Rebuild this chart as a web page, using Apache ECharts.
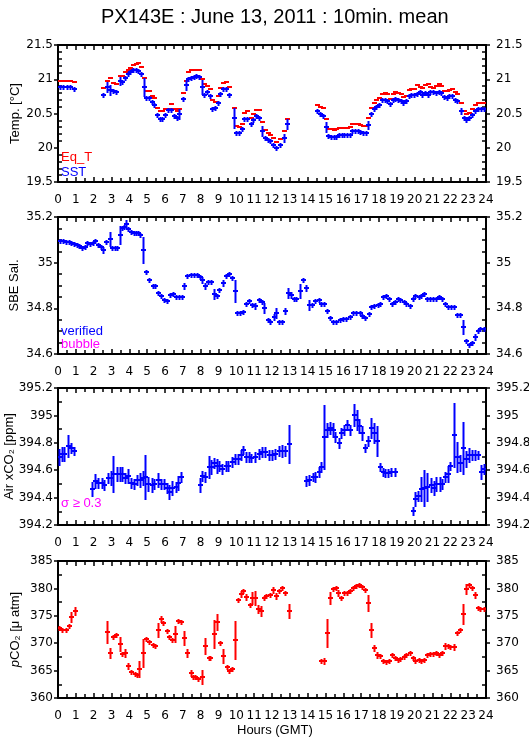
<!DOCTYPE html>
<html>
<head>
<meta charset="utf-8">
<script src="https://cdn.jsdelivr.net/npm/echarts@6/dist/echarts.min.js"></script>
<style>
  html, body { margin: 0; padding: 0; background: #fff; }
  #chart { width: 529px; height: 739px; }
</style>
</head>
<body>
<div id="chart"></div>
<script>
// ---- temperature panel ----
const tempHours = [0.1, 0.3, 0.5, 0.7, 0.9,
  2.55, 2.75, 2.9, 3.1, 3.25, 3.45, 3.6, 3.75, 3.9, 4.05, 4.2, 4.35, 4.5, 4.65, 4.8, 4.95,
  5.1, 5.25, 5.4, 5.55, 5.7, 5.85, 6.0, 6.15, 6.35, 6.5, 6.65, 6.8, 7.0, 7.15, 7.3, 7.45,
  7.6, 7.75, 7.9, 8.05, 8.2, 8.35, 8.5, 8.65, 8.8, 8.95, 9.1, 9.25, 9.4, 9.6, 9.85, 10.0,
  10.15, 10.3, 10.45, 10.6, 10.8, 10.95, 11.1, 11.25, 11.45, 11.6, 11.75, 11.9, 12.05, 12.25,
  12.45, 12.65, 12.85,
  14.55, 14.7, 14.85, 15.0, 15.15, 15.3, 15.45, 15.6, 15.75, 15.9, 16.05, 16.2, 16.35, 16.5,
  16.65, 16.8, 16.95, 17.1, 17.25,
  17.4, 17.55, 17.7, 17.85, 18.01, 18.16, 18.31, 18.46, 18.61, 18.76, 18.92, 19.07, 19.22,
  19.37, 19.52, 19.67, 19.82, 19.98, 20.13, 20.28, 20.43, 20.58, 20.73, 20.88, 21.04, 21.19,
  21.34, 21.49, 21.64, 21.79, 21.95, 22.1, 22.25, 22.4, 22.58, 22.74, 22.9, 23.06, 23.22,
  23.38, 23.56, 23.74, 23.9]
const eqT = [20.97, 20.97, 20.98, 20.98, 20.96,
  20.87, 20.97, 21.02, 20.94, 20.93, 21.05, 21.05, 21.1, 21.13, 21.17, 21.21, 21.22, 21.23, 21.18, 21.02, 20.83,
  20.83, 20.76, 20.72, 20.58, 20.53, 20.53, 20.56, 20.56, 20.64, 20.56, 20.54, 20.57, 20.8, 20.97, 21.1, 21.13,
  21.13, 21.13, 21.13, 21.0, 20.93, 20.9, 20.86, 20.69, 20.67, 20.75, 20.87, 20.94, 20.96, 20.88, 20.58, 20.32,
  20.3, 20.35, 20.51, 20.53, 20.43, 20.5, 20.55, 20.55, 20.37, 20.26, 20.21, 20.19, 20.14, 20.09,
  20.13, 20.24, 20.42,
  20.62, 20.6, 20.58, 20.42, 20.27, 20.27, 20.26, 20.27, 20.29, 20.29, 20.29, 20.29, 20.3, 20.34,
  20.34, 20.34, 20.33, 20.32, 20.32,
  20.44, 20.58, 20.66, 20.69, 20.72, 20.79, 20.8, 20.78, 20.71, 20.78, 20.81, 20.8, 20.79,
  20.74, 20.75, 20.85, 20.86, 20.86, 20.91, 20.88, 20.87, 20.91, 20.93, 20.89, 20.87, 20.9,
  20.93, 20.9, 20.83, 20.83, 20.84, 20.86, 20.81, 20.79, 20.66, 20.53, 20.5, 20.51, 20.57,
  20.63, 20.65, 20.65, 20.66]
const sst = [20.88, 20.88, 20.89, 20.88, 20.86,
  20.77, 20.89, 20.85, 20.83, 20.82, 20.98, 20.96, 21.02, 21.07, 21.1, 21.13, 21.14, 21.12, 21.07, 20.88, 20.72,
  20.72, 20.67, 20.62, 20.48, 20.42, 20.42, 20.48, 20.55, 20.55, 20.46, 20.44, 20.5, 20.71, 20.91, 21.01, 21.02,
  21.04, 21.05, 21.03, 20.88, 20.77, 20.81, 20.75, 20.57, 20.58, 20.66, 20.78, 20.86, 20.86, 20.77, 20.43, 20.21,
  20.21, 20.27, 20.42, 20.42, 20.34, 20.41, 20.47, 20.44, 20.25, 20.14, 20.11, 20.1, 20.04, 20.0,
  20.04, 20.14, 20.34,
  20.53, 20.5, 20.47, 20.3, 20.17, 20.16, 20.16, 20.16, 20.18, 20.18, 20.18, 20.18, 20.19, 20.24,
  20.24, 20.24, 20.23, 20.22, 20.22,
  20.33, 20.49, 20.56, 20.59, 20.63, 20.7, 20.7, 20.68, 20.64, 20.69, 20.71, 20.7, 20.68,
  20.65, 20.68, 20.75, 20.77, 20.77, 20.79, 20.82, 20.77, 20.8, 20.77, 20.81, 20.82, 20.8,
  20.82, 20.8, 20.74, 20.72, 20.75, 20.76, 20.7, 20.68, 20.54, 20.43, 20.4, 20.43, 20.48,
  20.54, 20.56, 20.56, 20.56]
// half-length of the SST error bar, 0 = just the plus mark
const sstErr = [0, 0, 0, 0, 0,
  0, 0.07, 0.07, 0, 0, 0.06, 0, 0, 0, 0, 0, 0, 0, 0, 0.13, 0,
  0, 0, 0, 0, 0, 0, 0, 0, 0, 0, 0, 0.07, 0, 0.07, 0, 0,
  0, 0, 0, 0.1, 0, 0, 0, 0.03, 0, 0, 0, 0, 0, 0, 0.15, 0,
  0, 0, 0, 0, 0, 0, 0, 0, 0.07, 0, 0, 0, 0, 0,
  0, 0.06, 0.07,
  0, 0, 0.03, 0.07, 0, 0, 0, 0, 0, 0, 0, 0, 0, 0,
  0, 0, 0, 0, 0,
  0.06, 0.03, 0, 0, 0, 0, 0, 0, 0, 0, 0, 0, 0,
  0, 0, 0, 0, 0, 0, 0, 0, 0, 0, 0, 0, 0,
  0, 0, 0, 0, 0, 0, 0, 0, 0.05, 0, 0, 0, 0,
  0.03, 0, 0, 0]

// ---- salinity panel ----
const salHours = [0.1, 0.3, 0.45, 0.6, 0.75, 0.9, 1.05, 1.2, 1.35, 1.5, 1.65, 1.8, 1.95, 2.1,
  2.25, 2.4, 2.55, 2.7, 2.9, 3.05, 3.2, 3.3, 3.45, 3.6, 3.7, 3.8, 3.95, 4.1, 4.25, 4.4, 4.5,
  4.6, 4.75, 4.95, 5.1, 5.3, 5.45, 5.6, 5.8, 5.95, 6.1, 6.3, 6.45, 6.6, 6.8, 6.95, 7.05, 7.25,
  7.45, 7.6, 7.8, 7.95, 8.1, 8.25, 8.4, 8.6, 8.75, 8.9, 9.05, 9.25, 9.4, 9.6, 9.75, 9.9,
  10.05, 10.2, 10.4, 10.55, 10.7, 10.9, 11.05, 11.25,
  11.44, 11.57, 11.76, 11.91, 12.09, 12.24, 12.41, 12.58, 12.75, 12.9, 13.07, 13.21, 13.36,
  13.55, 13.74, 13.93, 14.07, 14.24, 14.43, 14.62, 14.75, 14.93, 15.08, 15.27, 15.42, 15.61,
  15.79, 15.98, 16.17, 16.39, 16.54, 16.73, 16.95, 17.05, 17.23, 17.42, 17.57, 17.74, 17.93,
  18.04, 18.22, 18.41, 18.56, 18.73, 18.92, 19.05, 19.2, 19.38, 19.53, 19.72, 19.89, 20.04,
  20.22, 20.37, 20.54, 20.69, 20.88, 21.03, 21.2, 21.38, 21.53, 21.72, 21.87, 22.04, 22.19,
  22.37, 22.52, 22.69, 22.88, 23.03, 23.21, 23.36, 23.53, 23.68, 23.87]
const salinity = [35.094, 35.094, 35.092, 35.09, 35.086, 35.083, 35.076, 35.072, 35.066, 35.069, 35.086, 35.08, 35.088, 35.094,
  35.076, 35.069, 35.057, 35.09, 35.105, 35.065, 35.065, 35.065, 35.12, 35.153, 35.156, 35.171, 35.149, 35.134, 35.132, 35.132, 35.132,
  35.12, 35.057, 34.96, 34.923, 34.9, 34.9, 34.865, 34.853, 34.836, 34.832, 34.858, 34.861, 34.848, 34.848, 34.848, 34.9, 34.94,
  34.945, 34.945, 34.944, 34.938, 34.923, 34.9, 34.915, 34.915, 34.862, 34.853, 34.88, 34.91, 34.94, 34.95, 34.935, 34.877,
  34.778, 34.78, 34.785, 34.82, 34.83, 34.814, 34.81, 34.836,
  34.829, 34.8, 34.751, 34.738, 34.763, 34.778, 34.74, 34.74, 34.788, 34.865, 34.858, 34.843, 34.839,
  34.877, 34.923, 34.89, 34.814, 34.814, 34.833, 34.836, 34.818, 34.818, 34.788, 34.756, 34.741, 34.741,
  34.749, 34.753, 34.753, 34.76, 34.778, 34.778, 34.778, 34.766, 34.759, 34.773, 34.804, 34.811, 34.814,
  34.818, 34.85, 34.855, 34.842, 34.818, 34.829, 34.839, 34.836, 34.829, 34.817, 34.812, 34.843, 34.855,
  34.848, 34.853, 34.861, 34.84, 34.843, 34.839, 34.839, 34.85, 34.839, 34.817, 34.807, 34.807, 34.804,
  34.77, 34.77, 34.72, 34.657, 34.64, 34.65, 34.676, 34.702, 34.708, 34.708]
const salErr = [0, 0, 0, 0, 0, 0, 0, 0, 0, 0, 0, 0, 0, 0,
  0, 0, 0.012, 0, 0.03, 0, 0, 0, 0.04, 0, 0, 0.018, 0, 0, 0, 0, 0,
  0, 0.058, 0, 0, 0, 0, 0, 0, 0, 0, 0, 0, 0, 0, 0, 0.015, 0,
  0, 0, 0, 0, 0.012, 0.012, 0, 0, 0.02, 0, 0, 0.015, 0, 0, 0, 0.048,
  0, 0, 0, 0, 0, 0, 0.012, 0,
  0, 0.02, 0, 0, 0.015, 0.02, 0, 0, 0.015, 0.02, 0.015, 0, 0,
  0.03, 0, 0.015, 0.02, 0, 0, 0, 0, 0, 0, 0, 0, 0,
  0, 0, 0, 0, 0, 0, 0, 0, 0, 0, 0, 0, 0,
  0, 0, 0, 0, 0, 0, 0, 0, 0, 0, 0, 0, 0,
  0, 0, 0, 0, 0, 0, 0, 0, 0, 0, 0, 0, 0,
  0, 0, 0.03, 0, 0, 0, 0.015, 0, 0, 0]

// ---- air xCO2 panel ----
const airHours = [0.05, 0.2, 0.35, 0.55, 0.75, 0.9,
  1.9, 2.1, 2.25, 2.45, 2.6, 2.8, 2.95, 3.1, 3.3, 3.45, 3.6, 3.75, 3.95, 4.1, 4.25, 4.45,
  4.6, 4.75, 4.9, 5.05, 5.25, 5.4, 5.6, 5.75, 5.95, 6.1, 6.25, 6.4, 6.6, 6.75, 6.9,
  7.95, 8.1, 8.25, 8.45, 8.6, 8.75, 8.9, 9.05, 9.2, 9.4, 9.55, 9.75, 9.9, 10.1, 10.25,
  10.4, 10.55, 10.7, 10.85, 11.05, 11.25, 11.44, 11.63, 11.81, 12.0, 12.19, 12.37, 12.56,
  12.75, 12.93,
  13.89, 14.07, 14.28, 14.41, 14.62, 14.75, 14.9, 15.08, 15.27, 15.42, 15.55, 15.74, 15.89,
  16.02, 16.21, 16.39, 16.58, 16.77, 16.9, 17.05, 17.23, 17.38, 17.57, 17.7, 17.89, 18.04,
  18.21, 18.36, 18.5, 18.69, 18.88,
  19.89, 20.0, 20.19, 20.37, 20.54, 20.69, 20.92, 21.07, 21.21, 21.4, 21.53, 21.72, 21.87,
  22.0, 22.19, 22.37, 22.56, 22.69, 22.88, 23.03, 23.21, 23.36, 23.55, 23.72, 23.87]
const airXco2 = [394.7, 394.72, 394.72, 394.78, 394.76, 394.74,
  394.46, 394.52, 394.51, 394.51, 394.49, 394.54, 394.54, 394.57, 394.57, 394.575, 394.575, 394.54, 394.56, 394.51, 394.5, 394.53,
  394.53, 394.54, 394.55, 394.5, 394.49, 394.5, 394.53, 394.5, 394.5, 394.47, 394.44, 394.47, 394.48, 394.51, 394.55,
  394.49, 394.56, 394.55, 394.62, 394.62, 394.65, 394.63, 394.63, 394.61, 394.63, 394.63, 394.66, 394.68, 394.68, 394.71,
  394.75, 394.7, 394.7, 394.69, 394.7, 394.72, 394.73, 394.73, 394.71, 394.71, 394.72, 394.74, 394.74,
  394.74, 394.79,
  394.52, 394.53, 394.55, 394.55, 394.59, 394.62, 394.84, 394.89, 394.91, 394.89, 394.84, 394.8, 394.87,
  394.89, 394.93, 394.89, 395.0, 394.97, 394.92, 394.87, 394.76, 394.81, 394.91, 394.87, 394.81, 394.62,
  394.59, 394.58, 394.58, 394.59, 394.59,
  394.3, 394.39, 394.41, 394.46, 394.47, 394.48, 394.49, 394.47, 394.5, 394.5, 394.5, 394.55, 394.57,
  394.63, 394.86, 394.7, 394.65, 394.76, 394.68, 394.71, 394.71, 394.71, 394.71, 394.59, 394.61]
const airErr = [0.055, 0.05, 0.05, 0.08, 0.04, 0.03,
  0.05, 0.05, 0.04, 0.04, 0.04, 0.04, 0.05, 0.13, 0.05, 0.05, 0.05, 0.04, 0.05, 0.04, 0.04, 0.04,
  0.05, 0.05, 0.16, 0.05, 0.05, 0.04, 0.05, 0.04, 0.04, 0.04, 0.05, 0.05, 0.04, 0.05, 0.04,
  0.05, 0.035, 0.035, 0.08, 0.05, 0.04, 0.05, 0.04, 0.04, 0.04, 0.04, 0.04, 0.04, 0.04, 0.035,
  0.03, 0.04, 0.04, 0.03, 0.04, 0.04, 0.04, 0.04, 0.04, 0.04, 0.04, 0.04, 0.045,
  0.04, 0.14,
  0.04, 0.04, 0.03, 0.035, 0.035, 0.04, 0.23, 0.05, 0.045, 0.05, 0.04, 0.04, 0.035,
  0.04, 0.035, 0.04, 0.08, 0.07, 0.05, 0.05, 0.03, 0.04, 0.07, 0.07, 0.11, 0.03,
  0.03, 0.03, 0.03, 0.03, 0.03,
  0.03, 0.05, 0.04, 0.09, 0.13, 0.1, 0.05, 0.05, 0.05, 0.05, 0.04, 0.04, 0.06,
  0.03, 0.23, 0.11, 0.06, 0.19, 0.06, 0.05, 0.04, 0.04, 0.03, 0.05, 0.04]

// ---- pCO2 panel ----
const pco2Hours = [0.05, 0.25, 0.45, 0.6, 0.75, 0.95,
  2.75, 2.9, 3.1, 3.25, 3.45, 3.6, 3.75, 3.95, 4.1, 4.3, 4.45, 4.55, 4.75, 4.95, 5.1, 5.3,
  5.45, 5.6, 5.75, 5.9, 6.1, 6.25, 6.4, 6.55, 6.75, 6.9, 7.05, 7.25, 7.45, 7.55, 7.7, 7.85,
  8.05, 8.25, 8.45, 8.55, 8.75, 8.9, 9.1, 9.25, 9.45, 9.6, 9.75, 9.9, 10.1, 10.25, 10.4,
  10.55, 10.75, 10.9, 11.05, 11.2, 11.4, 11.57, 11.68, 11.87, 12.06, 12.24, 12.41, 12.58,
  12.75, 12.93,
  14.75, 14.9, 15.08, 15.27, 15.42, 15.57, 15.72, 15.87, 16.02, 16.21, 16.36, 16.52, 16.69,
  16.86, 17.05, 17.23, 17.38, 17.57, 17.74, 17.89, 18.04, 18.22, 18.39, 18.56, 18.73, 18.88,
  19.07, 19.2, 19.38, 19.53, 19.72, 19.89, 20.04, 20.22, 20.37, 20.54, 20.69, 20.88, 21.03,
  21.21, 21.38, 21.53, 21.72, 21.87, 22.0, 22.19, 22.37, 22.52, 22.69, 22.88, 23.03, 23.21,
  23.36, 23.55, 23.68, 23.87]
const pco2 = [372.7, 372.5, 372.5, 373.1, 374.7, 375.8,
  372.1, 368.3, 371.1, 371.5, 369.8, 368.05, 368.3, 365.75, 364.8, 364.4, 364.2, 365.3, 368.2, 370.7, 370.2, 369.6,
  369.5, 372.5, 374.5, 373.7, 372.2, 371.2, 370.6, 371.7, 374.1, 373.9, 371.0, 368.2, 364.5, 363.9, 363.8, 363.45,
  363.9, 369.4, 367.3, 367.3, 371.6, 373.9, 370.1, 367.7, 365.6, 364.95, 365.3, 370.6, 377.9, 379.0, 379.5,
  378.5, 377.0, 378.2, 378.2, 376.3, 375.9, 378.2, 378.6, 378.8, 379.7, 378.6, 379.6, 380.0,
  379.1, 375.9,
  366.7, 366.7, 371.9, 378.3, 379.8, 380.0, 379.1, 378.3, 379.2, 379.2, 379.6, 380.1, 380.5,
  380.6, 380.3, 379.7, 377.4, 372.4, 369.1, 367.9, 367.6, 366.7, 366.5, 366.8, 367.9, 367.3,
  367.0, 367.1, 367.4, 367.9, 368.2, 367.3, 366.7, 367.0, 366.8, 367.0, 367.9, 368.0, 368.0,
  368.3, 367.9, 368.3, 369.4, 369.4, 369.3, 369.3, 371.9, 372.5, 375.3, 379.8, 380.7, 380.1,
  378.8, 376.5, 376.2, 376.2]
const pco2Err = [0, 0, 0, 0, 1.0, 0.8,
  2.0, 1.0, 0, 0, 1.2, 0, 0.7, 0.5, 0, 0, 0, 1.5, 2.6, 0, 0, 0,
  0, 1.2, 0.5, 0, 0, 0, 0, 1.5, 0, 0, 1.3, 0.8, 0.5, 0, 0, 0,
  1.2, 1.5, 0, 0, 2.6, 1.5, 0, 1.2, 0, 0, 0, 3.5, 0, 0.6, 0,
  0.5, 0, 1.1, 1.2, 0.8, 0.9, 0, 0, 0, 0.6, 0.6, 0, 0,
  0, 1.2,
  0, 0.6, 2.5, 1.1, 0, 0, 0.6, 0, 0, 0, 0, 0, 0,
  0, 0, 0, 1.4, 1.2, 0.5, 0.5, 0, 0, 0, 0, 0, 0,
  0, 0, 0, 0, 0, 0, 0, 0, 0, 0, 0, 0, 0,
  0, 0, 0, 0.6, 0, 0, 0.6, 0, 0, 1.8, 1.0, 0, 0,
  0.6, 0, 0, 0]

const BLUE = '#0000ff'
const RED = '#ff0000'
const MAGENTA = '#ff00ff'
const FONT = 'Liberation Sans, Arial, sans-serif'
const TICK_FONT = 'DejaVu Sans, Liberation Sans, sans-serif'

const panelTops = [45, 217, 388, 561]
const panelHeight = 137
const panels = [
  { name: 'Temp. [°C]', min: 19.5, max: 21.5, interval: 0.5, minor: 5, nameGap: 36 },
  { name: 'SBE Sal.', min: 34.6, max: 35.2, interval: 0.2, minor: 4, nameGap: 37 },
  { name: 'Air xCO₂ [ppm]', min: 394.2, max: 395.2, interval: 0.2, minor: 2, nameGap: 42 },
  { name: '{i|p}CO₂ [μ atm]', min: 360, max: 385, interval: 5, minor: 2, nameGap: 36 }
]

const lineStyle = { color: '#000', width: 2 }
const tickStyle = { color: '#000', width: 1.5 }
const labelStyle = { color: '#000', fontSize: 12, fontFamily: TICK_FONT }

const grid = []
const xAxis = []
const yAxis = []
panels.forEach((p, i) => {
  grid.push({ left: 58, width: 428, top: panelTops[i], height: panelHeight, outerBoundsMode: 'none', containLabel: false })
  // bottom axis with hour labels, top axis just the ticks
  ;['bottom', 'top'].forEach(pos => {
    xAxis.push({
      gridIndex: i, type: 'value', position: pos, min: 0, max: 24, interval: 1,
      axisLine: { lineStyle },
      axisTick: { inside: true, length: 5, lineStyle: tickStyle },
      minorTick: { show: true, splitNumber: 2, length: 4, lineStyle: tickStyle },
      axisLabel: pos === 'bottom' ? Object.assign({ margin: 12 }, labelStyle) : { show: false },
      splitLine: { show: false }
    })
  })
  // left + right axes: labelled major ticks outward, minor ticks inward on a twin axis
  ;['left', 'right'].forEach(pos => {
    yAxis.push({
      gridIndex: i, type: 'value', position: pos, min: p.min, max: p.max, interval: p.interval,
      axisLine: { lineStyle },
      axisTick: { inside: false, length: 4, lineStyle: tickStyle },
      axisLabel: Object.assign({ margin: pos === 'left' ? 5 : 10 }, labelStyle),
      splitLine: { show: false },
      name: pos === 'left' ? p.name : '',
      nameLocation: 'middle',
      nameGap: p.nameGap,
      nameMoveOverlap: false,
      nameTextStyle: {
        color: '#000', fontSize: 13, fontFamily: FONT,
        rich: { i: { fontStyle: 'italic', fontSize: 13, fontFamily: FONT } }
      }
    })
    yAxis.push({
      gridIndex: i, type: 'value', position: pos, min: p.min, max: p.max, interval: p.interval,
      axisLine: { show: false },
      axisTick: { show: false, inside: true },
      minorTick: { show: true, splitNumber: p.minor, length: 4, lineStyle: tickStyle },
      axisLabel: { show: false },
      splitLine: { show: false }
    })
  })
})

// each mark: short horizontal bar for the 10 min mean, vertical bar for the spread
function markSeries(panel, hours, values, errs, color, withVertical) {
  const data = hours.map((h, k) => [h, values[k], errs ? errs[k] : 0])
  return {
    type: 'custom',
    xAxisIndex: panel * 2,
    yAxisIndex: panel * 4,
    clip: true,
    silent: true,
    data: data,
    renderItem: function (params, api) {
      const t = api.value(0)
      const v = api.value(1)
      const e = api.value(2)
      const p = api.coord([t, v])
      const x = Math.round(p[0])
      const y = Math.round(p[1])
      const children = [{
        type: 'line',
        shape: { x1: x - 2, y1: y, x2: x + 3, y2: y },
        style: { stroke: color, lineWidth: 2 }
      }]
      if (withVertical) {
        const top = api.coord([t, v + e])[1]
        const bot = api.coord([t, v - e])[1]
        const half = Math.max(Math.round((bot - top) / 2), 2)
        children.push({
          type: 'line',
          shape: { x1: x + 0.5, y1: y - half, x2: x + 0.5, y2: y + half + 1 },
          style: { stroke: color, lineWidth: 2 }
        })
      }
      return { type: 'group', children: children }
    }
  }
}

const series = [
  markSeries(0, tempHours, eqT, null, RED, false),
  markSeries(0, tempHours, sst, sstErr, BLUE, true),
  markSeries(1, salHours, salinity, salErr, BLUE, true),
  markSeries(2, airHours, airXco2, airErr, BLUE, true),
  markSeries(3, pco2Hours, pco2, pco2Err, RED, true)
]

function label(text, x, y, color) {
  return { type: 'text', left: x, top: y, style: { text: text, fill: color, font: '13px ' + FONT } }
}

const chart = echarts.init(document.getElementById('chart'), null, { renderer: 'canvas' })
chart.setOption({
  animation: false,
  backgroundColor: '#fff',
  title: {
    text: 'PX143E : June 13, 2011 : 10min. mean',
    left: 96,
    top: 2,
    textStyle: { color: '#000', fontSize: 20, fontWeight: 'normal', fontFamily: FONT }
  },
  grid: grid,
  xAxis: xAxis,
  yAxis: yAxis,
  series: series,
  graphic: [
    label('Eq_T', 61, 151, RED),
    label('SST', 61, 166, BLUE),
    label('verified', 61, 325, BLUE),
    label('bubble', 61, 338, MAGENTA),
    label('σ ≥ 0.3', 61, 497, MAGENTA),
    { type: 'text', left: 237, top: 724, style: { text: 'Hours (GMT)', fill: '#000', font: '13px ' + FONT } }
  ]
})
</script>
</body>
</html>
